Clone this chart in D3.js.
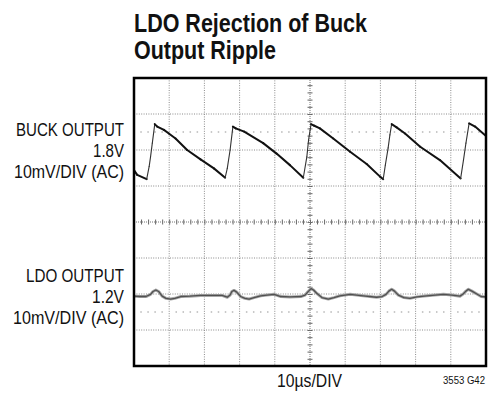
<!DOCTYPE html>
<html>
<head>
<meta charset="utf-8">
<script src="https://cdn.jsdelivr.net/npm/d3@7"></script>
<style>
  html, body { margin: 0; padding: 0; background: #fff; }
  svg { display: block; }
  .narrow { font-family: "Liberation Sans", Arial, sans-serif; }
</style>
</head>
<body>
<svg id="chart" width="501" height="399"></svg>
<script>
// Scope capture: 10 horizontal divisions of 10µs, 8 vertical divisions of 10mV
const timeDomain = [0, 100];          // µs across the screen
const divDomain = [-4, 4];            // vertical divisions
const mVPerDiv = 10;

// Channel reference levels (in divisions from screen centre)
const buckRef = 2.5;
const ldoRef = -2.5;

// Buck output ripple (AC coupled): time in µs, value in mV from the channel reference
const buckTime = [0, 0.9, 3.6, 4.3, 4.7, 5.2, 5.9, 6.6, 8.5, 9.9, 11.8, 15.1, 18.9, 22.7, 25.9,
  26.5, 27.3, 28.1, 28.9, 31.3, 36.7, 40.5, 44.3, 48.1,
  49.1, 49.6, 50.3, 51.1, 52.8, 56.6, 61.4, 66.1, 69.9, 70.8,
  71.4, 72.2, 72.7, 73.2, 74.6, 77.0, 81.3, 86.9, 92.8,
  93.6, 94.3, 95.2, 96.9, 100];
const buckMV = [-10.6, -11.9, -13.1, -9.6, -6.9, -3.1, 2.2, 1.5, 0.6, -0.4, -1.8, -5.0, -7.6, -10.1, -12.7,
  -10.1, -5.0, 1.5, 1.0, 0.1, -3.1, -6.0, -9.2, -12.7,
  -6.9, -2.2, 2.2, 1.8, 1.0, -1.8, -5.5, -8.9, -12.4, -13.1,
  -9.2, -4.4, -0.8, 2.2, 1.3, -0.4, -4.1, -7.8, -12.9,
  -7.8, -3.1, 2.4, 1.5, -1.1];

// LDO output: time in µs, value in mV from the channel reference
const ldoTime = [0, 1.7, 3.4, 4.7, 5.4, 6.2, 7.0, 8.0, 9.1, 10.4, 11.6, 13.3, 15.9, 18.9, 22.2, 25.0,
  26.5, 27.3, 27.8, 28.4, 29.1, 30.3, 31.5, 32.7, 34.1, 36.0, 37.8, 39.8, 41.7, 44.3, 47.4,
  48.6, 49.4, 50.3, 51.0, 51.9, 53.4, 55.2, 56.8, 58.5, 61.4, 65.1, 68.9, 70.5,
  71.6, 72.4, 73.2, 74.0, 75.1, 76.7, 78.4, 80.4, 83.2, 87.9, 90.3, 92.6,
  93.5, 94.3, 95.0, 96.0, 97.4, 98.6, 100];
const ldoMV = [4.4, 4.3, 4.3, 4.9, 5.7, 6.1, 5.7, 4.4, 3.8, 3.6, 3.8, 4.3, 4.4, 4.6, 4.6, 4.6,
  4.1, 4.7, 5.7, 6.0, 5.6, 4.3, 3.8, 3.6, 4.0, 4.5, 4.7, 4.9, 4.3, 4.2, 4.3,
  4.7, 5.6, 6.5, 6.1, 5.2, 4.0, 3.6, 4.0, 4.5, 4.9, 4.5, 4.1, 4.3,
  4.9, 5.8, 6.3, 5.8, 4.7, 4.0, 3.8, 4.2, 4.5, 4.9, 4.7, 4.4,
  5.0, 5.8, 6.3, 5.8, 5.0, 4.3, 4.2];

const titleLines = ["LDO Rejection of Buck", "Output Ripple"];
const buckLabel = ["BUCK OUTPUT", "1.8V", "10mV/DIV (AC)"];
const ldoLabel = ["LDO OUTPUT", "1.2V", "10mV/DIV (AC)"];
const xAxisLabel = "10µs/DIV";
const figureId = "3553 G42";

const svg = d3.select("#chart");
const plot = { left: 134, right: 486, top: 78, bottom: 366 };

const x = d3.scaleLinear().domain(timeDomain).range([plot.left, plot.right]);
const y = d3.scaleLinear().domain(divDomain).range([plot.bottom, plot.top]);

const xDivs = d3.range(0, 101, 10);
const yDivs = d3.range(-4, 5, 1);
const g = svg.append("g");

// Graticule: dotted division lines
g.selectAll(".vgrid").data(xDivs.filter(d => d > 0 && d < 100 && d !== 50)).join("line")
  .attr("x1", d => x(d)).attr("x2", d => x(d))
  .attr("y1", plot.top).attr("y2", plot.bottom)
  .attr("stroke", "#8a8a8a").attr("stroke-width", 1).attr("stroke-dasharray", "1,1.4");
g.selectAll(".hgrid").data(yDivs.filter(d => d > -4 && d < 4 && d !== 0)).join("line")
  .attr("x1", plot.left).attr("x2", plot.right)
  .attr("y1", d => y(d)).attr("y2", d => y(d))
  .attr("stroke", "#8a8a8a").attr("stroke-width", 1).attr("stroke-dasharray", "1,1.4");

// Reference markers: sparse dots at each fifth of a division
[buckRef, ldoRef].forEach(level => {
  const pts = d3.range(1, 50).map(i => i * 2).filter(t => t % 10 !== 0);
  g.selectAll(null).data(pts).join("rect")
    .attr("x", d => x(d) - 0.75).attr("y", y(level) - 0.75)
    .attr("width", 1.5).attr("height", 1.5)
    .attr("fill", "#b8b8b8");
});

// Centre axes with minor ticks
const xCentre = d3.axisBottom(x).tickValues(d3.range(2, 100, 2)).tickSize(5).tickFormat("");
const yCentre = d3.axisLeft(y).tickValues(d3.range(-3.8, 4, 0.2)).tickSize(5).tickFormat("");
const xa = g.append("g").attr("transform", `translate(0,${y(0) - 2.5})`).call(xCentre);
xa.select(".domain").remove();
xa.selectAll("line").attr("stroke", "#666");
const ya = g.append("g").attr("transform", `translate(${x(50) + 2.5},0)`).call(yCentre);
ya.select(".domain").remove();
ya.selectAll("line").attr("stroke", "#666");
g.append("line").attr("x1", plot.left).attr("x2", plot.right)
  .attr("y1", y(0)).attr("y2", y(0)).attr("stroke", "#777").attr("stroke-width", 1)
  .attr("stroke-dasharray", "1,1");
g.append("line").attr("x1", x(50)).attr("x2", x(50))
  .attr("y1", plot.top).attr("y2", plot.bottom).attr("stroke", "#777").attr("stroke-width", 1)
  .attr("stroke-dasharray", "1,1");

// Traces
const line = d3.line().x(d => x(d[0])).y(d => y(d[1])).curve(d3.curveLinear);
const buckPts = buckTime.map((t, i) => [t, buckRef + buckMV[i] / mVPerDiv]);
const ldoPts = ldoTime.map((t, i) => [t, ldoRef + ldoMV[i] / mVPerDiv]);

g.append("path").attr("d", line(ldoPts)).attr("fill", "none")
  .attr("stroke", "#a8a8a8").attr("stroke-width", 3).attr("stroke-linejoin", "round");
g.append("path").attr("d", line(ldoPts)).attr("fill", "none")
  .attr("stroke", "#505050").attr("stroke-width", 1.3).attr("stroke-linejoin", "round");

// Buck trace: the fast switching edges show as a faint thin line, the slow ramp as a heavy one
const buckSegs = d3.pairs(buckPts);
g.selectAll(".buckseg").data(buckSegs).join("line")
  .attr("x1", d => x(d[0][0])).attr("y1", d => y(d[0][1]))
  .attr("x2", d => x(d[1][0])).attr("y2", d => y(d[1][1]))
  .attr("stroke", d => d[1][1] > d[0][1] + 0.15 ? "#333" : "#111")
  .attr("stroke-width", d => d[1][1] > d[0][1] + 0.15 ? 1.1 : 2)
  .attr("stroke-linecap", "round");

// Screen frame
g.append("rect").attr("x", plot.left).attr("y", plot.top)
  .attr("width", plot.right - plot.left).attr("height", plot.bottom - plot.top)
  .attr("fill", "none").attr("stroke", "#000").attr("stroke-width", 2.5);

// Condensed text: fixed advance widths squeeze a regular face into a narrow one
function label(str, opts) {
  const t = svg.append("text").attr("class", "narrow")
    .attr("x", opts.x).attr("y", opts.y)
    .attr("text-anchor", opts.anchor || "start")
    .attr("font-size", opts.size)
    .attr("font-weight", opts.weight || "normal")
    .attr("fill", "#111")
    .text(str);
  if (opts.width) t.attr("textLength", opts.width).attr("lengthAdjust", "spacingAndGlyphs");
  return t;
}

// Title
label(titleLines[0], { x: 134, y: 32, size: 25, weight: "bold", width: 233 });
label(titleLines[1], { x: 134, y: 58.5, size: 25, weight: "bold", width: 142 });

// Channel labels
const buckWidths = [108, 31, 110];
const ldoWidths = [98, 32, 111];
buckLabel.forEach((s, i) => label(s, { x: 124, y: 136 + i * 21, size: 18, anchor: "end", width: buckWidths[i] }));
ldoLabel.forEach((s, i) => label(s, { x: 124, y: 282 + i * 21, size: 18, anchor: "end", width: ldoWidths[i] }));

label(xAxisLabel, { x: 277, y: 387, size: 18, width: 65 });
label(figureId, { x: 443, y: 384, size: 10, width: 42 });
</script>
</body>
</html>
